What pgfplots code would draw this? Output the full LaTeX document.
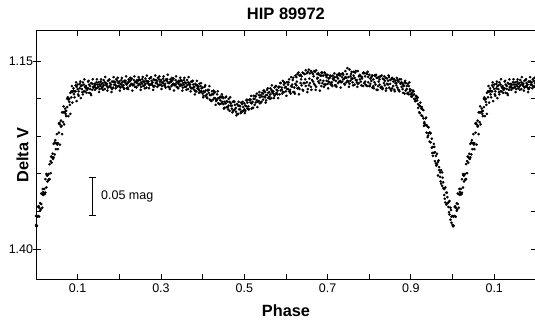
\documentclass[border=0pt]{standalone}
\usepackage{fontspec}
\setmainfont{Liberation Sans}
\usepackage{pgfplots}
\usepackage{pgfplotstable}
\pgfplotsset{compat=1.18}
\pgfplotstableread{
p a b q c d r e
0.000 1.356 1.368 0.0025 1.369 1.357 0.00125 1.370
0.005 1.356 1.344 0.0075 1.345 1.357 0.00625 1.343
0.010 1.349 1.339 0.0125 1.326 1.340 0.01125 1.347
0.015 1.327 1.345 0.0175 1.328 1.324 0.01625 1.320
0.020 1.326 1.320 0.0225 1.325 1.307 0.02125 1.327
0.025 1.300 1.318 0.0275 1.302 1.310 0.02625 1.302
0.030 1.300 1.308 0.0325 1.287 1.307 0.03125 1.307
0.035 1.299 1.283 0.0375 1.285 1.277 0.03625 1.277
0.040 1.273 1.279 0.0425 1.278 1.260 0.04125 1.280
0.045 1.274 1.258 0.0475 1.259 1.267 0.04625 1.255
0.050 1.247 1.259 0.0525 1.259 1.267 0.05125 1.261
0.055 1.245 1.233 0.0575 1.234 1.261 0.05625 1.232
0.060 1.237 1.229 0.0625 1.218 1.247 0.06125 1.236
0.065 1.218 1.231 0.0675 1.218 1.234 0.06625 1.210
0.070 1.217 1.213 0.0725 1.216 1.223 0.07125 1.220
0.075 1.200 1.211 0.0775 1.201 1.223 0.07625 1.198
0.080 1.200 1.204 0.0825 1.192 1.220 0.08125 1.208
0.085 1.198 1.190 0.0875 1.191 1.205 0.08625 1.183
0.090 1.186 1.189 0.0925 1.190 1.198 0.09125 1.194
0.095 1.190 1.182 0.0975 1.184 1.203 0.09625 1.178
0.100 1.181 1.187 0.1025 1.190 1.196 0.10125 1.194
0.105 1.186 1.180 0.1075 1.183 1.199 0.10625 1.177
0.110 1.187 1.182 0.1125 1.178 1.194 0.11125 1.191
0.115 1.181 1.190 0.1175 1.184 1.190 0.11625 1.174
0.120 1.186 1.183 0.1225 1.188 1.186 0.12125 1.192
0.125 1.177 1.186 0.1275 1.181 1.192 0.12625 1.176
0.130 1.183 1.187 0.1325 1.179 1.195 0.13125 1.193
0.135 1.188 1.180 0.1375 1.184 1.185 0.13625 1.174
0.140 1.180 1.183 0.1425 1.185 1.181 0.14125 1.188
0.145 1.186 1.178 0.1475 1.181 1.185 0.14625 1.174
0.150 1.178 1.184 0.1525 1.187 1.181 0.15125 1.191
0.155 1.183 1.177 0.1575 1.180 1.186 0.15625 1.174
0.160 1.184 1.179 0.1625 1.175 1.182 0.16125 1.188
0.165 1.178 1.187 0.1675 1.181 1.179 0.16625 1.171
0.170 1.183 1.180 0.1725 1.185 1.176 0.17125 1.189
0.175 1.175 1.184 0.1775 1.179 1.183 0.17625 1.174
0.180 1.181 1.185 0.1825 1.177 1.187 0.18125 1.191
0.185 1.185 1.177 0.1875 1.181 1.177 0.18625 1.171
0.190 1.178 1.181 0.1925 1.183 1.174 0.19125 1.186
0.195 1.184 1.176 0.1975 1.179 1.183 0.19625 1.172
0.200 1.183 1.177 0.2025 1.180 1.185 0.20125 1.189
0.205 1.175 1.181 0.2075 1.184 1.178 0.20625 1.172
0.210 1.182 1.185 0.2125 1.177 1.176 0.21125 1.187
0.215 1.179 1.176 0.2175 1.186 1.181 0.21625 1.170
0.220 1.185 1.179 0.2225 1.174 1.177 0.22125 1.187
0.225 1.177 1.183 0.2275 1.181 1.175 0.22625 1.172
0.230 1.180 1.173 0.2325 1.182 1.181 0.23125 1.189
0.235 1.175 1.181 0.2375 1.178 1.184 0.23625 1.170
0.240 1.184 1.177 0.2425 1.175 1.179 0.24125 1.185
0.245 1.176 1.182 0.2475 1.180 1.174 0.24625 1.171
0.250 1.175 1.181 0.2525 1.184 1.178 0.25125 1.188
0.255 1.180 1.174 0.2575 1.177 1.183 0.25625 1.171
0.260 1.182 1.177 0.2625 1.173 1.180 0.26125 1.186
0.265 1.176 1.185 0.2675 1.179 1.177 0.26625 1.169
0.270 1.180 1.177 0.2725 1.182 1.173 0.27125 1.186
0.275 1.172 1.181 0.2775 1.176 1.180 0.27625 1.171
0.280 1.178 1.182 0.2825 1.174 1.184 0.28125 1.188
0.285 1.183 1.175 0.2875 1.179 1.175 0.28625 1.169
0.290 1.176 1.179 0.2925 1.181 1.172 0.29125 1.184
0.295 1.182 1.174 0.2975 1.177 1.181 0.29625 1.170
0.300 1.181 1.175 0.3025 1.178 1.183 0.30125 1.187
0.305 1.173 1.179 0.3075 1.182 1.176 0.30625 1.170
0.310 1.180 1.183 0.3125 1.175 1.174 0.31125 1.185
0.315 1.177 1.174 0.3175 1.184 1.179 0.31625 1.168
0.320 1.185 1.179 0.3225 1.174 1.177 0.32125 1.187
0.325 1.177 1.183 0.3275 1.181 1.175 0.32625 1.172
0.330 1.180 1.173 0.3325 1.182 1.181 0.33125 1.189
0.335 1.175 1.181 0.3375 1.178 1.184 0.33625 1.170
0.340 1.185 1.178 0.3425 1.176 1.180 0.34125 1.186
0.345 1.177 1.183 0.3475 1.181 1.175 0.34625 1.172
0.350 1.176 1.182 0.3525 1.185 1.179 0.35125 1.189
0.355 1.181 1.175 0.3575 1.178 1.184 0.35625 1.172
0.360 1.184 1.179 0.3625 1.175 1.182 0.36125 1.188
0.365 1.178 1.187 0.3675 1.181 1.179 0.36625 1.171
0.370 1.184 1.181 0.3725 1.186 1.177 0.37125 1.190
0.375 1.177 1.186 0.3775 1.181 1.185 0.37625 1.176
0.380 1.184 1.188 0.3825 1.180 1.190 0.38125 1.194
0.385 1.190 1.182 0.3875 1.186 1.182 0.38625 1.176
0.390 1.184 1.187 0.3925 1.189 1.180 0.39125 1.192
0.395 1.191 1.183 0.3975 1.186 1.190 0.39625 1.179
0.400 1.193 1.185 0.4025 1.190 1.196 0.40125 1.198
0.405 1.184 1.191 0.4075 1.196 1.189 0.40625 1.182
0.410 1.194 1.198 0.4125 1.189 1.188 0.41125 1.199
0.415 1.192 1.188 0.4175 1.201 1.195 0.41625 1.183
0.420 1.202 1.195 0.4225 1.190 1.194 0.42125 1.203
0.425 1.194 1.201 0.4275 1.199 1.192 0.42625 1.189
0.430 1.199 1.191 0.4325 1.203 1.201 0.43125 1.208
0.435 1.194 1.201 0.4375 1.199 1.206 0.43625 1.190
0.440 1.207 1.199 0.4425 1.197 1.202 0.44125 1.207
0.445 1.198 1.206 0.4475 1.204 1.197 0.44625 1.194
0.450 1.199 1.207 0.4525 1.212 1.204 0.45125 1.213
0.455 1.206 1.198 0.4575 1.203 1.211 0.45625 1.197
0.460 1.211 1.204 0.4625 1.200 1.209 0.46125 1.214
0.465 1.204 1.216 0.4675 1.209 1.206 0.46625 1.198
0.470 1.213 1.209 0.4725 1.216 1.204 0.47125 1.218
0.475 1.203 1.215 0.4775 1.208 1.214 0.47625 1.204
0.480 1.212 1.217 0.4825 1.207 1.220 0.48125 1.222
0.485 1.220 1.209 0.4875 1.214 1.209 0.48625 1.204
0.490 1.210 1.214 0.4925 1.217 1.205 0.49125 1.219
0.495 1.217 1.207 0.4975 1.211 1.216 0.49625 1.204
0.500 1.214 1.206 0.5025 1.209 1.216 0.50125 1.219
0.505 1.202 1.210 0.5075 1.213 1.205 0.50625 1.201
0.510 1.210 1.214 0.5125 1.202 1.201 0.51125 1.214
0.515 1.205 1.201 0.5175 1.213 1.206 0.51625 1.196
0.520 1.212 1.204 0.5225 1.196 1.200 0.52125 1.212
0.525 1.200 1.208 0.5275 1.205 1.197 0.52625 1.196
0.530 1.202 1.193 0.5325 1.204 1.203 0.53125 1.211
0.535 1.195 1.203 0.5375 1.198 1.206 0.53625 1.191
0.540 1.205 1.195 0.5425 1.192 1.197 0.54125 1.204
0.545 1.193 1.201 0.5475 1.197 1.189 0.54625 1.189
0.550 1.191 1.198 0.5525 1.202 1.195 0.55125 1.205
0.555 1.195 1.188 0.5575 1.192 1.199 0.55625 1.186
0.560 1.197 1.191 0.5625 1.186 1.194 0.56125 1.200
0.565 1.188 1.199 0.5675 1.192 1.190 0.56625 1.182
0.570 1.193 1.190 0.5725 1.196 1.185 0.57125 1.199
0.575 1.183 1.194 0.5775 1.188 1.192 0.57625 1.183
0.580 1.189 1.194 0.5825 1.184 1.185 0.58125 1.199
0.585 1.194 1.184 0.5875 1.189 1.179 0.58625 1.179
0.590 1.185 1.188 0.5925 1.191 1.176 0.59125 1.193
0.595 1.191 1.181 0.5975 1.185 1.179 0.59625 1.178
0.600 1.190 1.184 0.6025 1.187 1.178 0.60125 1.196
0.605 1.181 1.187 0.6075 1.190 1.174 0.60625 1.178
0.610 1.188 1.191 0.6125 1.183 1.171 0.61125 1.193
0.615 1.184 1.181 0.6175 1.191 1.172 0.61625 1.175
0.620 1.191 1.185 0.6225 1.180 1.169 0.62125 1.193
0.625 1.182 1.171 0.6275 1.186 1.167 0.62625 1.177
0.630 1.185 1.165 0.6325 1.187 1.169 0.63125 1.194
0.635 1.179 1.168 0.6375 1.182 1.170 0.63625 1.174
0.640 1.188 1.165 0.6425 1.179 1.166 0.64125 1.189
0.645 1.179 1.167 0.6475 1.183 1.162 0.64625 1.174
0.650 1.178 1.166 0.6525 1.187 1.164 0.65125 1.191
0.655 1.182 1.161 0.6575 1.179 1.166 0.65625 1.173
0.660 1.184 1.163 0.6625 1.175 1.165 0.66125 1.188
0.665 1.177 1.167 0.6675 1.180 1.163 0.66625 1.170
0.670 1.182 1.164 0.6725 1.184 1.162 0.67125 1.188
0.675 1.173 1.167 0.6775 1.177 1.166 0.67625 1.172
0.680 1.179 1.168 0.6825 1.175 1.169 0.68125 1.189
0.685 1.183 1.165 0.6875 1.179 1.165 0.68625 1.169
0.690 1.176 1.169 0.6925 1.181 1.165 0.69125 1.184
0.695 1.181 1.167 0.6975 1.176 1.171 0.69625 1.169
0.700 1.180 1.168 0.7025 1.177 1.173 0.70125 1.186
0.705 1.172 1.178 0.7075 1.181 1.170 0.70625 1.169
0.710 1.178 1.181 0.7125 1.173 1.169 0.71125 1.183
0.715 1.175 1.172 0.7175 1.182 1.171 0.71625 1.166
0.720 1.182 1.176 0.7225 1.171 1.168 0.72125 1.184
0.725 1.173 1.179 0.7275 1.177 1.166 0.72625 1.168
0.730 1.176 1.169 0.7325 1.178 1.167 0.73125 1.185
0.735 1.171 1.177 0.7375 1.174 1.168 0.73625 1.166
0.740 1.180 1.173 0.7425 1.171 1.163 0.74125 1.181
0.745 1.172 1.178 0.7475 1.176 1.159 0.74625 1.167
0.750 1.171 1.177 0.7525 1.180 1.161 0.75125 1.184
0.755 1.176 1.170 0.7575 1.173 1.164 0.75625 1.167
0.760 1.178 1.173 0.7625 1.169 1.164 0.76125 1.182
0.765 1.172 1.181 0.7675 1.175 1.163 0.76625 1.165
0.770 1.178 1.175 0.7725 1.180 1.163 0.77125 1.184
0.775 1.170 1.179 0.7775 1.174 1.168 0.77625 1.169
0.780 1.177 1.170 0.7825 1.173 1.171 0.78125 1.182
0.785 1.183 1.166 0.7875 1.179 1.166 0.78625 1.165
0.790 1.177 1.170 0.7925 1.182 1.166 0.79125 1.181
0.795 1.183 1.167 0.7975 1.178 1.171 0.79625 1.164
0.800 1.183 1.168 0.8025 1.180 1.173 0.80125 1.183
0.805 1.176 1.171 0.8075 1.185 1.169 0.80625 1.169
0.810 1.183 1.174 0.8125 1.178 1.169 0.81125 1.186
0.815 1.181 1.169 0.8175 1.188 1.172 0.81625 1.168
0.820 1.188 1.172 0.8225 1.177 1.171 0.82125 1.183
0.825 1.181 1.174 0.8275 1.185 1.170 0.82625 1.170
0.830 1.184 1.169 0.8325 1.186 1.173 0.83125 1.187
0.835 1.179 1.174 0.8375 1.182 1.176 0.83625 1.170
0.840 1.189 1.172 0.8425 1.180 1.173 0.84125 1.186
0.845 1.181 1.176 0.8475 1.185 1.171 0.84625 1.169
0.850 1.180 1.175 0.8525 1.189 1.174 0.85125 1.187
0.855 1.186 1.172 0.8575 1.183 1.177 0.85625 1.173
0.860 1.188 1.174 0.8625 1.179 1.176 0.86125 1.190
0.865 1.182 1.179 0.8675 1.185 1.175 0.86625 1.172
0.870 1.188 1.177 0.8725 1.190 1.174 0.87125 1.188
0.875 1.180 1.179 0.8775 1.184 1.178 0.87625 1.174
0.880 1.187 1.180 0.8825 1.183 1.182 0.88125 1.192
0.885 1.193 1.178 0.8875 1.189 1.179 0.88625 1.176
0.890 1.187 1.183 0.8925 1.192 1.180 0.89125 1.193
0.895 1.194 1.183 0.8975 1.190 1.187 0.89625 1.178
0.900 1.194 1.188 0.9025 1.192 1.197 0.90125 1.197
0.905 1.189 1.195 0.9075 1.200 1.194 0.90625 1.190
0.910 1.200 1.203 0.9125 1.197 1.196 0.91125 1.203
0.915 1.202 1.199 0.9175 1.212 1.207 0.91625 1.198
0.920 1.218 1.209 0.9225 1.205 1.210 0.92125 1.219
0.925 1.213 1.222 0.9275 1.223 1.214 0.92625 1.211
0.930 1.226 1.215 0.9325 1.233 1.231 0.93125 1.236
0.935 1.226 1.235 0.9375 1.235 1.245 0.93625 1.225
0.940 1.251 1.237 0.9425 1.238 1.246 0.94125 1.249
0.945 1.245 1.257 0.9475 1.258 1.246 0.94625 1.245
0.950 1.253 1.265 0.9525 1.276 1.264 0.95125 1.272
0.955 1.272 1.260 0.9575 1.271 1.283 0.95625 1.264
0.960 1.286 1.276 0.9625 1.273 1.287 0.96125 1.289
0.965 1.284 1.302 0.9675 1.295 1.291 0.96625 1.282
0.970 1.304 1.298 0.9725 1.313 1.295 0.97125 1.310
0.975 1.298 1.316 0.9775 1.311 1.319 0.97625 1.305
0.980 1.320 1.328 0.9825 1.318 1.338 0.98125 1.333
0.985 1.341 1.325 0.9875 1.339 1.331 0.98625 1.325
0.990 1.338 1.344 0.9925 1.354 1.336 0.99125 1.351
0.995 1.361 1.345 0.9975 1.357 1.365 0.99625 1.348
1.000 1.356 1.368 1.0025 1.369 1.357 1.00125 1.370
1.005 1.356 1.344 1.0075 1.345 1.357 1.00625 1.343
1.010 1.349 1.339 1.0125 1.326 1.340 1.01125 1.347
1.015 1.327 1.345 1.0175 1.328 1.324 1.01625 1.320
1.020 1.326 1.320 1.0225 1.325 1.307 1.02125 1.327
1.025 1.300 1.318 1.0275 1.302 1.310 1.02625 1.302
1.030 1.300 1.308 1.0325 1.287 1.307 1.03125 1.307
1.035 1.299 1.283 1.0375 1.285 1.277 1.03625 1.277
1.040 1.273 1.279 1.0425 1.278 1.260 1.04125 1.280
1.045 1.274 1.258 1.0475 1.259 1.267 1.04625 1.255
1.050 1.247 1.259 1.0525 1.259 1.267 1.05125 1.261
1.055 1.245 1.233 1.0575 1.234 1.261 1.05625 1.232
1.060 1.237 1.229 1.0625 1.218 1.247 1.06125 1.236
1.065 1.218 1.231 1.0675 1.218 1.234 1.06625 1.210
1.070 1.217 1.213 1.0725 1.216 1.223 1.07125 1.220
1.075 1.200 1.211 1.0775 1.201 1.223 1.07625 1.198
1.080 1.200 1.204 1.0825 1.192 1.220 1.08125 1.208
1.085 1.198 1.190 1.0875 1.191 1.205 1.08625 1.183
1.090 1.186 1.189 1.0925 1.190 1.198 1.09125 1.194
1.095 1.190 1.182 1.0975 1.184 1.203 1.09625 1.178
1.100 1.181 1.187 1.1025 1.190 1.196 1.10125 1.194
1.105 1.186 1.180 1.1075 1.183 1.199 1.10625 1.177
1.110 1.187 1.182 1.1125 1.178 1.194 1.11125 1.191
1.115 1.181 1.190 1.1175 1.184 1.190 1.11625 1.174
1.120 1.186 1.183 1.1225 1.188 1.186 1.12125 1.192
1.125 1.177 1.186 1.1275 1.181 1.192 1.12625 1.176
1.130 1.183 1.187 1.1325 1.179 1.195 1.13125 1.193
1.135 1.188 1.180 1.1375 1.184 1.185 1.13625 1.174
1.140 1.180 1.183 1.1425 1.185 1.181 1.14125 1.188
1.145 1.186 1.178 1.1475 1.181 1.185 1.14625 1.174
1.150 1.178 1.184 1.1525 1.187 1.181 1.15125 1.191
1.155 1.183 1.177 1.1575 1.180 1.186 1.15625 1.174
1.160 1.184 1.179 1.1625 1.175 1.182 1.16125 1.188
1.165 1.178 1.187 1.1675 1.181 1.179 1.16625 1.171
1.170 1.183 1.180 1.1725 1.185 1.176 1.17125 1.189
1.175 1.175 1.184 1.1775 1.179 1.183 1.17625 1.174
1.180 1.181 1.185 1.1825 1.177 1.187 1.18125 1.191
1.185 1.185 1.177 1.1875 1.181 1.177 1.18625 1.171
1.190 1.178 1.181 1.1925 1.183 1.174 1.19125 1.186
1.195 1.184 1.176 1.1975 1.179 1.183 1.19625 1.172
}\lc
\begin{document}
\begin{tikzpicture}
\path[use as bounding box] (0,0) rectangle (535pt,324pt);
\begin{axis}[
  name=ax,
  at={(36pt,45pt)}, anchor=south west,
  scale only axis, width=499.9pt, height=248.3pt,
  xmin=0, xmax=1.2, ymin=1.1092, ymax=1.44, y dir=reverse,
  axis line style={line width=1pt, black},
  tick align=inside,
  tick style={black, line width=0.9pt},
  major tick length=5pt, minor tick length=5pt,
  xtick={0.1,0.3,0.5,0.7,0.9,1.1},
  xticklabels={0.1,0.3,0.5,0.7,0.9,0.1},
  minor xtick={0.2,0.4,0.6,0.8,1.0},
  ytick={1.15,1.20,1.25,1.30,1.35,1.40},
  yticklabels={1.15,,,,,1.40},
  extra y ticks={1.15,1.40},
  extra y tick labels={},
  extra y tick style={tick align=outside, major tick length=2.7pt},
  ticklabel style={font=\fontsize{12.5}{14}\selectfont, inner sep=0pt},
  xticklabel style={anchor=north, yshift=-4.3pt},
  yticklabel style={anchor=east, xshift=-2.7pt},
  title={HIP 89972},
  title style={font=\fontsize{16.5}{18}\selectfont\bfseries, at={(axis description cs:0.5,1)}, anchor=base, yshift=4.7pt, inner sep=0pt},
  xlabel={Phase},
  xlabel style={font=\fontsize{16.3}{18}\selectfont\bfseries, at={(axis description cs:0.5,0)}, anchor=base, yshift=-37.5pt, inner sep=0pt},
  ylabel={Delta V},
  ylabel style={font=\fontsize{16.3}{18}\selectfont\bfseries, at={([xshift=-7.7pt]axis description cs:0,0.5)}, anchor=base, inner sep=0pt},
]
\addplot[only marks, mark=*, mark size=1.1pt, mark options={draw=none, fill=black}] table[x=p, y=a] {\lc};
\addplot[only marks, mark=*, mark size=1.1pt, mark options={draw=none, fill=black}] table[x=p, y=b] {\lc};
\addplot[only marks, mark=*, mark size=1.1pt, mark options={draw=none, fill=black}] table[x=q, y=c] {\lc};
\addplot[only marks, mark=*, mark size=1.1pt, mark options={draw=none, fill=black}] table[x=q, y=d] {\lc};
\addplot[only marks, mark=*, mark size=1.1pt, mark options={draw=none, fill=black}] table[x=r, y=e] {\lc};
\addplot[black, line width=1pt, mark=none] coordinates {(0.1351,1.305) (0.1351,1.355)};
\addplot[black, line width=1pt, mark=none] coordinates {(0.1272,1.305) (0.1430,1.305)};
\addplot[black, line width=1pt, mark=none] coordinates {(0.1272,1.355) (0.1430,1.355)};
\node[anchor=base west, inner sep=0pt, font=\fontsize{12.5}{14}\selectfont] at (axis cs:0.156,1.3347) {0.05 mag};
\end{axis}
\draw[line width=1pt, black] (ax.south west) rectangle (ax.north east);
\end{tikzpicture}
\end{document}
